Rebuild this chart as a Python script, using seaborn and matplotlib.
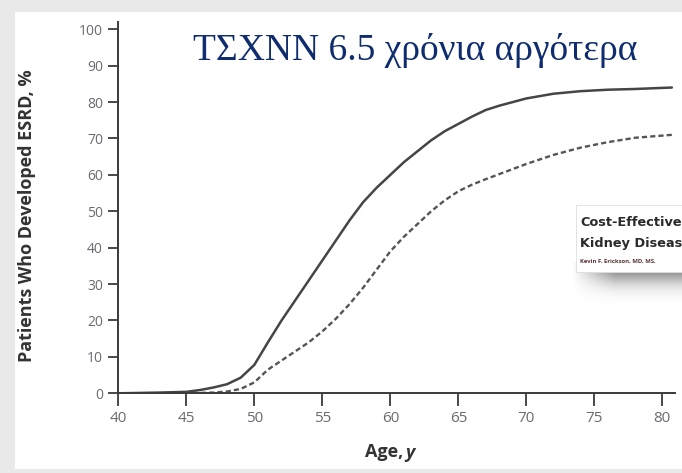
import numpy as np
import pandas as pd
import matplotlib
matplotlib.use("Agg")
import matplotlib.pyplot as plt
from matplotlib import font_manager
from matplotlib.patches import Rectangle
import seaborn as sns

# Cumulative incidence of ESRD by age (two strategies)
age_solid = [40, 43, 45, 46, 47, 48, 49, 50, 51, 52, 53, 54, 55, 56, 57, 58, 59, 60,
             61, 62, 63, 64, 65, 66, 67, 68, 70, 72, 74, 76, 78, 80.7]
esrd_solid = [0, 0.2, 0.4, 0.9, 1.6, 2.5, 4.3, 7.8, 14, 20, 25.5, 31, 36.5, 42, 47.5, 52.5, 56.5, 60,
              63.5, 66.5, 69.5, 72, 74, 76, 77.8, 79, 81, 82.3, 83, 83.4, 83.6, 84]

age_dashed = [40, 45, 47, 48, 49, 50, 51, 52, 53, 54, 55, 56, 57, 58, 59, 60, 61, 62, 63,
              64, 65, 66, 67, 68, 70, 72, 74, 76, 78, 80.7]
esrd_dashed = [0, 0, 0.2, 0.5, 1.2, 3, 6.5, 9, 11.5, 14, 17, 20.5, 24.5, 29, 34, 39, 43, 46.5, 50,
               53, 55.5, 57.3, 58.8, 60.2, 63, 65.5, 67.5, 69, 70.2, 71]

x_ticks = [40, 45, 50, 55, 60, 65, 70, 75, 80]
y_ticks = [0, 10, 20, 30, 40, 50, 60, 70, 80, 90, 100]

title_text = "ΤΣΧΝΝ 6.5 χρόνια αργότερα"
x_label = "Age,"
x_label_var = "y"
y_label = "Patients Who Developed ESRD, %"
inset_lines = ["Cost-Effective", "Kidney Diseas"]
inset_author = "Kevin F. Erickson, MD, MS,"

sns.set_style("ticks")
plt.rcParams["font.family"] = ["Open Sans", "DejaVu Sans"]

# pick a narrow sans face for the article header if one is installed
narrow = None
for f in font_manager.fontManager.ttflist:
    name = f.name.lower()
    if ("narrow" in name or "condensed" in name or f.stretch in ("condensed", "semi-condensed")) \
            and f.weight in ("bold", 700):
        narrow = f.name
        break
header_family = [narrow, "DejaVu Sans"] if narrow else ["DejaVu Sans"]

W, H = 682, 473
fig = plt.figure(figsize=(W / 100, H / 100), dpi=100, facecolor="#e9e9e9")

def fx(px):
    return px / W

def fy(py):
    return 1 - py / H

# white slide panel
fig.patches.append(Rectangle((fx(15), fy(469)), fx(682) - fx(15), fy(12) - fy(469),
                             transform=fig.transFigure, facecolor="white",
                             edgecolor="none", zorder=-5))

x0, x1 = 118.3, 675.0
y0, y1 = 393.3, 22.0
ax = fig.add_axes([fx(x0), fy(y0), fx(x1) - fx(x0), fy(y1) - fy(y0)])
ax.set_facecolor("none")

df_s = pd.DataFrame({"age": age_solid, "esrd": esrd_solid})
df_d = pd.DataFrame({"age": age_dashed, "esrd": esrd_dashed})
sns.lineplot(data=df_s, x="age", y="esrd", ax=ax, color="#454545", linewidth=1.8)
sns.lineplot(data=df_d, x="age", y="esrd", ax=ax, color="#555555", linewidth=1.7,
             linestyle=(0, (2.2, 1.3)))

ax.set_xlim(40, 80.93)
ax.set_ylim(0, 102)
ax.set_xticks(x_ticks)
ax.set_yticks(y_ticks)
sns.despine(ax=ax)
for s in ("left", "bottom"):
    ax.spines[s].set_color("#3a3a3a")
    ax.spines[s].set_linewidth(1.4)
ax.tick_params(axis="y", direction="out", length=7.5, width=1.3, color="#3a3a3a",
               labelsize=10, labelcolor="#6a6a72", pad=3.5)
ax.tick_params(axis="x", direction="out", length=9.5, width=1.3, color="#3a3a3a",
               labelsize=11, labelcolor="#6a6a72", pad=3.5)

ax.set_xlabel("")
ax.set_ylabel(y_label, fontsize=13, fontweight="bold", color="#333333")
ax.yaxis.set_label_coords((36 - x0) / (x1 - x0), (y0 - 216) / (y0 - y1))

fig.text(fx(403), fy(452), x_label, ha="right", va="center", fontsize=13,
         fontweight="bold", color="#333333")
fig.text(fx(405), fy(453), x_label_var, ha="left", va="center", fontsize=13,
         fontweight="bold", style="italic", color="#333333")

fig.text(fx(415), fy(50), title_text, ha="center", va="center", fontsize=27,
         family=["Liberation Serif", "DejaVu Serif"], color="#0f2d6e")

# clipped article header with a drop shadow
sh_x0, sh_x1, sh_y0, sh_y1 = 560, 682, 262, 315
sax = fig.add_axes([fx(sh_x0), fy(sh_y1), fx(sh_x1) - fx(sh_x0), fy(sh_y0) - fy(sh_y1)])
sax.axis("off")
gx = np.linspace(0, 1, 200)
gy = np.linspace(0, 1, 80)
GX, GY = np.meshgrid(gx, gy)
alpha = np.clip((GX - 0.1) / 0.35, 0, 1) * np.exp(-((GY - 0.05) / 0.35) ** 2) * 0.75
rgba = np.zeros((80, 200, 4))
rgba[..., :3] = 0.35
rgba[..., 3] = alpha
sax.imshow(rgba, extent=(0, 1, 1, 0), aspect="auto", interpolation="bilinear")
sax.set_xlim(0, 1)
sax.set_ylim(1, 0)

fig.patches.append(Rectangle((fx(576), fy(272)), fx(682) - fx(576), fy(205) - fy(272),
                             transform=fig.transFigure, facecolor="white",
                             edgecolor="#dddddd", linewidth=0.6, zorder=5))
hsize = 9.3 if narrow else 7.5
fig.text(fx(580), fy(222), inset_lines[0], ha="left", va="center", fontsize=hsize,
         fontweight="bold", family=header_family, color="#2a2a2a", zorder=6)
fig.text(fx(580), fy(243), inset_lines[1], ha="left", va="center", fontsize=hsize,
         fontweight="bold", family=header_family, color="#2a2a2a", zorder=6)
fig.text(fx(580), fy(261), inset_author, ha="left", va="center", fontsize=4.2,
         fontweight="bold", color="#5a3030", zorder=6)

fig.savefig("out.png", dpi=100, facecolor=fig.get_facecolor())
